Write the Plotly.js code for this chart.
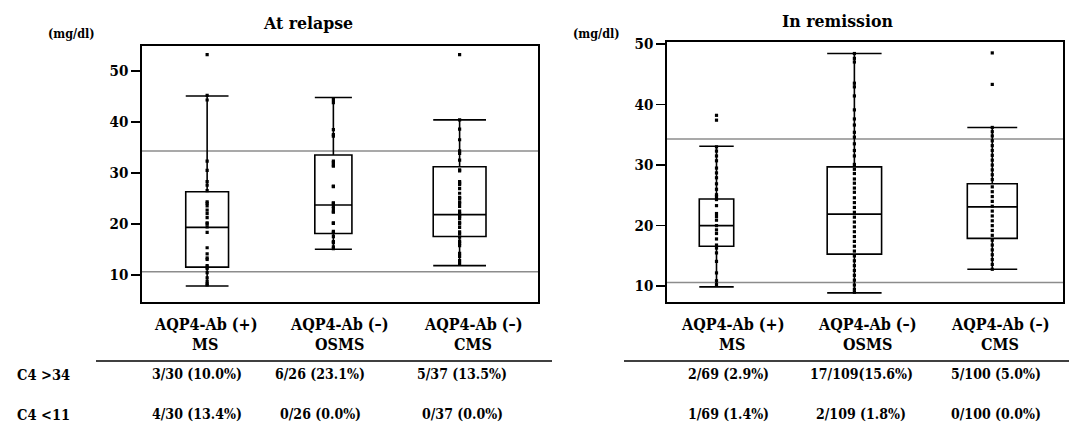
<!DOCTYPE html>
<html><head><meta charset="utf-8">
<script src="https://cdn.plot.ly/plotly-3.0.1.min.js"></script>
<style>html,body{margin:0;padding:0;background:#fff}#chart{width:1069px;height:435px}</style>
</head><body><div id="chart"></div>
<script>
// ---------- text ----------
const panelTitles = ["At relapse", "In remission"];
const unitLabel = "(mg/dl)";
const groupLine1 = ["AQP4-Ab (+)", "AQP4-Ab (–)", "AQP4-Ab (–)"];
const groupLine2 = ["MS", "OSMS", "CMS"];
const rowLabels = ["C4 >34", "C4 <11"];
const yTicks = [10, 20, 30, 40, 50];

// ---------- At relapse ----------
const relapseN = [30, 26, 37];
const relapseLower = [7.8, 15.0, 11.8];
const relapseQ1 = [11.5, 18.1, 17.5];
const relapseMedian = [19.3, 23.7, 21.8];
const relapseQ3 = [26.3, 33.5, 31.2];
const relapseUpper = [45.1, 44.8, 40.4];
const relapseMS = [53.2, 45.2, 44.3, 32.3, 30.5, 28.3, 27.6, 26.5, 24.3, 23.5, 22.7, 22.0, 21.2, 20.2, 19.4, 18.3, 15.3, 14.1, 13.3, 11.8, 11.2, 10.4, 9.4, 8.7, 8.2, 24.0, 20.0, 11.5, 13.0, 8.0];
const relapseOSMS = [44.4, 43.8, 38.5, 37.2, 32.3, 31.3, 27.3, 24.1, 23.4, 22.4, 20.2, 18.5, 17.5, 16.5, 15.5, 15.1, 32.0, 24.0, 23.0, 22.3, 20.1, 18.2, 16.3, 31.5, 27.4, 37.5];
const relapseCMS = [53.2, 40.4, 38.6, 36.5, 34.3, 33.8, 32.5, 30.6, 28.3, 27.7, 26.9, 26.0, 25.2, 24.3, 23.4, 22.5, 21.7, 21.0, 20.3, 19.3, 18.4, 17.4, 16.6, 15.7, 14.2, 13.6, 12.8, 12.2, 28.0, 25.0, 22.0, 21.5, 20.0, 18.0, 16.2, 30.4, 24.0];
const relapseHigh = ["3/30 (10.0%)", "6/26 (23.1%)", "5/37 (13.5%)"];
const relapseLow = ["4/30 (13.4%)", "0/26 (0.0%)", "0/37 (0.0%)"];

// ---------- In remission ----------
const remissionN = [69, 109, 100];
const remissionLower = [9.9, 8.9, 12.8];
const remissionQ1 = [16.6, 15.3, 17.9];
const remissionMedian = [20.0, 21.9, 23.1];
const remissionQ3 = [24.4, 29.7, 26.9];
const remissionUpper = [33.1, 48.4, 36.2];
const remissionMS = [38.2, 37.4, 33.0, 32.3, 31.5, 30.7, 29.5, 28.7, 27.9, 26.9, 26.0, 25.1, 24.3, 23.3, 22.0, 20.9, 20.0, 18.7, 17.8, 16.8, 16.3, 15.5, 14.1, 12.2, 10.9, 10.3, 21.5, 19.3, 24.8];
const remissionOSMS = [48.4, 47.6, 47.0, 43.5, 42.9, 41.4, 39.1, 37.6, 36.6, 35.4, 34.6, 33.5, 32.4, 31.5, 30.1, 29.3, 28.6, 27.7, 27.0, 26.2, 25.5, 24.6, 23.8, 23.0, 22.2, 21.4, 20.6, 19.8, 19.0, 18.2, 17.4, 16.6, 15.8, 15.0, 14.2, 13.4, 12.6, 11.8, 11.0, 10.2, 9.5, 9.0];
const remissionCMS = [48.5, 43.3, 36.2, 35.5, 34.8, 34.0, 33.2, 32.4, 31.6, 30.8, 30.0, 29.2, 28.4, 27.6, 26.4, 25.6, 24.8, 24.0, 23.2, 22.4, 21.6, 20.8, 20.0, 19.2, 18.4, 17.6, 16.8, 16.0, 15.2, 14.4, 13.6, 12.8];
const remissionHigh = ["2/69 (2.9%)", "17/109(15.6%)", "5/100 (5.0%)"];
const remissionLow = ["1/69 (1.4%)", "2/109 (1.8%)", "0/100 (0.0%)"];

// reference thresholds (mg/dl)
const refHigh = 34.3;
const refLow = 10.6;

// ---------- build ----------
const W = 1069, H = 435;
const px = v => v / W;
const py = v => 1 - v / H;
const serif = "DejaVu Serif Condensed";
const black = "#000";

const panels = [
  {n: relapseN, lo: relapseLower, q1: relapseQ1, med: relapseMedian, q3: relapseQ3, hi: relapseUpper,
   pts: [relapseMS, relapseOSMS, relapseCMS], xa: "x", ya: "y", widthPerN: 0.0113},
  {n: remissionN, lo: remissionLower, q1: remissionQ1, med: remissionMedian, q3: remissionQ3, hi: remissionUpper,
   pts: [remissionMS, remissionOSMS, remissionCMS], xa: "x2", ya: "y2", widthPerN: 0.00362}
];

const traces = [];
panels.forEach(p => {
  for (let i = 0; i < 3; i++) {
    traces.push({
      type: "box", orientation: "v", x: [i],
      q1: [p.q1[i]], median: [p.med[i]], q3: [p.q3[i]],
      lowerfence: [p.lo[i]], upperfence: [p.hi[i]],
      width: p.n[i] * p.widthPerN, whiskerwidth: 1,
      line: {color: black, width: 1.6}, fillcolor: "rgba(255,255,255,0)",
      boxpoints: false, xaxis: p.xa, yaxis: p.ya, hoverinfo: "skip", showlegend: false
    });
  }
  const xs = [], ys = [];
  p.pts.forEach((arr, i) => arr.forEach(v => { xs.push(i); ys.push(v); }));
  traces.push({
    type: "scatter", mode: "markers", x: xs, y: ys, xaxis: p.xa, yaxis: p.ya,
    marker: {symbol: "square", size: 3.2, color: black, line: {width: 0}},
    hoverinfo: "skip", showlegend: false
  });
});

const frame = {showline: true, mirror: true, linecolor: black, linewidth: 1.6, showgrid: false, zeroline: false};
const xCommon = Object.assign({}, frame, {showticklabels: false, ticks: "", fixedrange: true});
const yCommon = Object.assign({}, frame, {
  tickmode: "array", tickvals: yTicks, ticks: "outside", ticklen: 9, tickwidth: 1.6, tickcolor: black,
  tickfont: {family: serif, size: 15, color: black, weight: "bold"}, fixedrange: true
});

const annotations = [];
function txt(text, x, y, size, anchor) {
  annotations.push({text: "<b>" + text + "</b>", xref: "paper", yref: "paper", x: px(x), y: py(y),
    xanchor: anchor || "center", yanchor: "middle", showarrow: false,
    font: {family: serif, size: size, color: black}});
}
txt(panelTitles[0], 308, 23, 17.5);
txt(panelTitles[1], 837, 21, 17.5);
txt(unitLabel, 71, 34, 12.5);
txt(unitLabel, 596, 34, 12.5);
const catLeft = [205, 339, 473], catRight = [732, 867, 1000];
for (let i = 0; i < 3; i++) {
  txt(groupLine1[i], catLeft[i], 324, 16);
  txt(groupLine2[i], catLeft[i], 344, 16);
  txt(groupLine1[i], catRight[i], 324, 16);
  txt(groupLine2[i], catRight[i], 344, 16);
}
txt(rowLabels[0], 15, 374, 14.5, "left");
txt(rowLabels[1], 15, 414, 14.5, "left");
const valLeft = [197, 320, 462], valRight = [728, 861, 996];
for (let i = 0; i < 3; i++) {
  txt(relapseHigh[i], valLeft[i], 374, 14);
  txt(relapseLow[i], valLeft[i], 414, 14);
  txt(remissionHigh[i], valRight[i], 374, 14);
  txt(remissionLow[i], valRight[i], 414, 14);
}

const refLine = (xa, v) => ({type: "line", xref: xa + " domain", yref: (xa === "x" ? "y" : "y2"),
  x0: 0, x1: 1, y0: v, y1: v, line: {color: "#8c8c8c", width: 1.5}, layer: "below"});
const shapes = [
  refLine("x", refHigh), refLine("x", refLow), refLine("x2", refHigh), refLine("x2", refLow),
  {type: "line", xref: "paper", yref: "paper", x0: px(96), x1: px(552), y0: py(361), y1: py(361), line: {color: black, width: 1.5}},
  {type: "line", xref: "paper", yref: "paper", x0: px(624), x1: px(1069), y0: py(361), y1: py(361), line: {color: black, width: 1.5}}
];

const layout = {
  width: W, height: H, margin: {l: 0, r: 0, t: 0, b: 0},
  paper_bgcolor: "#fff", plot_bgcolor: "#fff", showlegend: false, boxmode: "overlay",
  font: {family: serif, color: black},
  xaxis: Object.assign({}, xCommon, {domain: [px(142), px(538)], range: [-0.516, 2.621], anchor: "y"}),
  yaxis: Object.assign({}, yCommon, {domain: [1 - 302 / H, 1 - 45.5 / H], range: [4.65, 55.0], anchor: "x"}),
  xaxis2: Object.assign({}, xCommon, {domain: [px(667), px(1063)], range: [-0.359, 2.513], anchor: "y2"}),
  yaxis2: Object.assign({}, yCommon, {domain: [1 - 302 / H, 1 - 42 / H], range: [7.4, 50.3], anchor: "x2"}),
  annotations: annotations, shapes: shapes
};

Plotly.newPlot("chart", traces, layout, {staticPlot: true, displayModeBar: false});
</script>
</body></html>
